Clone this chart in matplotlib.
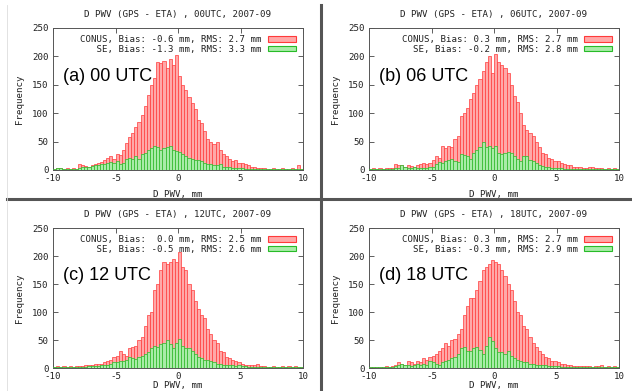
import numpy as np
import matplotlib
matplotlib.use("Agg")
import matplotlib.pyplot as plt
from matplotlib.patches import Patch
from matplotlib.lines import Line2D

plt.rcParams['axes.unicode_minus'] = False

# --- DATA (counts per 0.25 mm bin, -10 .. 10) ---
bin_edges = np.linspace(-10, 10, 81)

a_conus = [2, 3, 3, 2, 3, 2, 3, 2,
           10, 8, 7, 6, 8, 10, 12, 14,
           18, 22, 24, 20, 28, 26, 35, 47,
           58, 66, 75, 85, 97, 112, 132, 150,
           162, 190, 188, 192, 180, 195, 185, 202,
           165, 150, 140, 128, 118, 108, 88, 82,
           68, 55, 50, 45, 50, 35, 28, 25,
           20, 16, 18, 12, 12, 10, 8, 5,
           5, 4, 3, 3, 2, 2, 3, 2,
           2, 3, 2, 2, 3, 2, 8, 2]
a_se = [2, 3, 3, 2, 2, 1, 2, 2,
        4, 5, 5, 6, 7, 8, 8, 10,
        10, 12, 14, 12, 16, 10, 12, 20,
        22, 20, 24, 20, 28, 30, 35, 38,
        42, 40, 36, 38, 40, 42, 35, 33,
        32, 28, 25, 22, 20, 18, 18, 15,
        12, 10, 10, 8, 8, 10, 6, 5,
        5, 4, 4, 3, 3, 2, 2, 2,
        2, 2, 1, 1, 2, 1, 1, 1,
        1, 1, 1, 1, 1, 1, 1, 1]

b_conus = [2, 3, 2, 3, 2, 3, 4, 3,
           10, 9, 8, 5, 8, 7, 6, 8,
           10, 12, 10, 12, 18, 25, 22, 42,
           38, 42, 40, 55, 60, 95, 100, 110,
           125, 135, 150, 160, 175, 190, 200, 170,
           205, 190, 185, 180, 170, 150, 130, 120,
           100, 80, 70, 65, 60, 50, 40, 30,
           28, 22, 20, 15, 15, 12, 10, 8,
           8, 6, 5, 5, 4, 4, 5, 5,
           4, 3, 3, 2, 3, 2, 4, 2]
b_se = [1, 2, 2, 1, 2, 1, 2, 1,
        3, 4, 8, 6, 4, 3, 5, 4,
        3, 3, 4, 5, 6, 10, 14, 12,
        15, 18, 20, 15, 14, 28, 26, 25,
        20, 30, 35, 40, 50, 40, 42, 38,
        42, 30, 28, 30, 32, 30, 25, 20,
        15, 25, 25, 18, 15, 12, 8, 7,
        6, 5, 4, 4, 3, 3, 2, 2,
        2, 2, 1, 1, 1, 1, 1, 1,
        1, 1, 1, 1, 1, 1, 1, 1]

c_conus = [2, 3, 2, 4, 2, 3, 2, 3,
           3, 4, 5, 5, 6, 7, 8, 8,
           10, 12, 14, 20, 22, 30, 25, 22,
           35, 38, 40, 50, 55, 75, 95, 100,
           140, 150, 175, 190, 185, 190, 195, 190,
           208, 180, 175, 150, 140, 120, 105, 95,
           90, 70, 60, 50, 45, 30, 28, 20,
           18, 15, 12, 10, 8, 6, 5, 5,
           5, 8, 4, 3, 2, 2, 3, 2,
           2, 3, 2, 3, 2, 3, 2, 2]
c_se = [1, 1, 1, 1, 1, 1, 1, 1,
        2, 2, 2, 3, 3, 3, 4, 5,
        5, 6, 8, 10, 10, 12, 12, 14,
        20, 18, 16, 20, 22, 25, 28, 35,
        40, 38, 42, 45, 50, 42, 35, 45,
        52, 40, 35, 35, 30, 25, 20, 18,
        15, 14, 12, 10, 8, 7, 6, 6,
        5, 5, 4, 5, 3, 3, 2, 2,
        2, 1, 1, 1, 1, 1, 1, 1,
        1, 1, 1, 1, 1, 1, 1, 1]

d_conus = [1, 2, 1, 2, 2, 3, 2, 3,
           5, 10, 8, 6, 12, 10, 8, 12,
           10, 18, 15, 20, 22, 25, 30, 35,
           45, 40, 50, 52, 60, 70, 95, 110,
           125, 125, 140, 155, 175, 180, 185, 192,
           190, 185, 175, 165, 150, 140, 120, 100,
           95, 75, 70, 55, 45, 38, 30, 25,
           20, 18, 12, 12, 10, 8, 8, 5,
           5, 4, 4, 4, 3, 3, 3, 2,
           4, 3, 5, 2, 3, 2, 4, 2]
d_se = [1, 1, 1, 2, 1, 1, 2, 1,
        3, 5, 7, 6, 5, 4, 5, 8,
        5, 8, 6, 12, 10, 8, 6, 10,
        12, 15, 18, 20, 25, 35, 38, 30,
        30, 35, 38, 32, 25, 40, 55, 48,
        35, 28, 28, 25, 30, 22, 18, 15,
        12, 10, 10, 8, 8, 6, 5, 5,
        5, 4, 4, 3, 3, 2, 2, 2,
        1, 1, 1, 1, 1, 1, 1, 1,
        1, 1, 1, 1, 1, 1, 1, 1]

hours = ["00UTC", "06UTC", "12UTC", "18UTC"]
panel_labels = ["(a) 00 UTC", "(b) 06 UTC", "(c) 12 UTC", "(d) 18 UTC"]
conus_stats = [("-0.6", "2.7"), ("0.3", "2.7"), (" 0.0", "2.5"), ("0.3", "2.7")]
se_stats = [("-1.3", "3.3"), ("-0.2", "2.8"), ("-0.5", "2.6"), ("-0.3", "2.9")]
conus_all = [a_conus, b_conus, c_conus, d_conus]
se_all = [a_se, b_se, c_se, d_se]

# --- LAYOUT (pixels in a 632x391 canvas) ---
W, H = 632, 391
boxes = [(53, 28, 303, 170), (369, 28, 619, 170),
         (53, 228, 303, 368), (369, 228, 619, 368)]

MONO = "DejaVu Sans Mono"
FS = 6.6
TXT = "#222222"
RED_FILL, RED_EDGE = "#ffa8a8", "#ff3a3a"
GRN_FILL, GRN_EDGE = "#a8eca8", "#28bb28"

fig = plt.figure(figsize=(W / 100, H / 100), dpi=100)
fig.patch.set_facecolor("white")

centers = 0.5 * (bin_edges[:-1] + bin_edges[1:])
width = bin_edges[1] - bin_edges[0]

for k, (x0, y0, x1, y1) in enumerate(boxes):
    ax = fig.add_axes([x0 / W, 1 - y1 / H, (x1 - x0) / W, (y1 - y0) / H])
    ax.bar(centers, conus_all[k], width=width, color=RED_FILL,
           edgecolor=RED_EDGE, linewidth=0.5, zorder=2)
    ax.bar(centers, se_all[k], width=width, color=GRN_FILL,
           edgecolor=GRN_EDGE, linewidth=0.5, zorder=3)

    ax.set_xlim(-10, 10)
    ax.set_ylim(0, 250)
    ax.set_xticks([-10, -5, 0, 5, 10])
    ax.set_yticks(range(0, 251, 50))
    ax.tick_params(direction="in", top=True, right=True, length=3.5,
                   width=0.6, color="#444444", labelsize=FS,
                   labelcolor=TXT, pad=3)
    for lab in ax.get_xticklabels() + ax.get_yticklabels():
        lab.set_family(MONO)
    for s in ax.spines.values():
        s.set_color("#555555")
        s.set_linewidth(0.7)

    ax.text(0.5, 1 + 13 / (y1 - y0),
            f"D PWV (GPS - ETA) , {hours[k]}, 2007-09",
            transform=ax.transAxes, ha="center", va="center",
            family=MONO, fontsize=FS, color=TXT)
    ax.set_xlabel("D PWV, mm", family=MONO, fontsize=FS, color=TXT, labelpad=5)
    if k >= 2:
        # bottom row: keep the x label just inside the canvas
        ax.xaxis.set_label_coords(0.5, -(390 - y1) / (y1 - y0))
        ax.xaxis.label.set_va("bottom")
    ax.set_ylabel("Frequency", family=MONO, fontsize=FS, color=TXT, labelpad=6)

    ax.text(0.04, 0.63, panel_labels[k], transform=ax.transAxes,
            ha="left", va="baseline", family="Liberation Sans",
            fontsize=13, color="black", zorder=5)

    lab1 = "CONUS, Bias: %s mm, RMS: %s mm" % conus_stats[k]
    lab2 = "SE, Bias: %s mm, RMS: %s mm" % se_stats[k]
    n = max(len(lab1), len(lab2))
    lab1, lab2 = lab1.rjust(n), lab2.rjust(n)
    handles = [Patch(facecolor=RED_FILL, edgecolor=RED_EDGE, linewidth=0.8),
               Patch(facecolor=GRN_FILL, edgecolor=GRN_EDGE, linewidth=0.8)]
    leg = ax.legend(handles, [lab1, lab2], loc="upper right", frameon=False,
                    markerfirst=False, prop={"family": MONO, "size": FS},
                    handlelength=3.0, handleheight=0.5, handletextpad=0.7,
                    labelspacing=0.05, borderpad=0.2, borderaxespad=0.6)
    for t in leg.get_texts():
        t.set_color(TXT)

# panel dividers
fig.add_artist(Line2D([320.5 / W, 320.5 / W], [1 - 5 / H, 0],
                      color="#555555", linewidth=2.2))
fig.add_artist(Line2D([7 / W, 1], [1 - 199 / H, 1 - 199 / H],
                      color="#555555", linewidth=2.2))
fig.add_artist(Line2D([7 / W, 7 / W], [1 - 5 / H, 0],
                      color="#dddddd", linewidth=0.6))

fig.savefig("out.png", dpi=100)
